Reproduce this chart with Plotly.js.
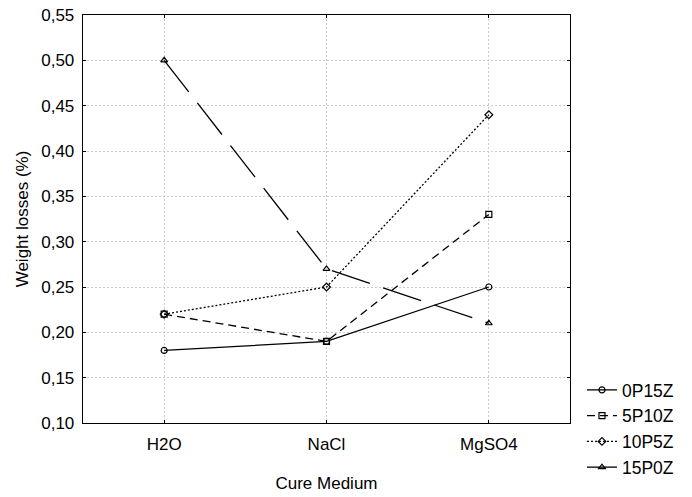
<!DOCTYPE html>
<html>
<head>
<meta charset="utf-8">
<script src="https://cdn.plot.ly/plotly-3.0.1.min.js"></script>
<style>html,body{margin:0;padding:0;background:#fff}#chart{width:692px;height:497px}</style>
</head>
<body>
<div id="chart"></div>
<script>
const categories = ["H2O", "NaCl", "MgSO4"];
const seriesNames = ["0P15Z", "5P10Z", "10P5Z", "15P0Z"];
const s0P15Z = [0.18, 0.19, 0.25];
const s5P10Z = [0.22, 0.19, 0.33];
const s10P5Z = [0.22, 0.25, 0.44];
const s15P0Z = [0.50, 0.27, 0.21];
const yTicks = [0.10, 0.15, 0.20, 0.25, 0.30, 0.35, 0.40, 0.45, 0.50, 0.55];

const values = [s0P15Z, s5P10Z, s10P5Z, s15P0Z];
const dashes = ["solid", "8px,5px", "2px,2px", "40px,14px"];
const symbols = ["circle-open", "square-open", "diamond-open", "triangle-up-open"];
const traces = values.map((v, i) => ({
  x: categories, y: v, name: seriesNames[i], type: "scatter", mode: "lines+markers",
  line: {color: "#000", width: 1.3, dash: dashes[i]},
  marker: {symbol: symbols[i], size: 6, color: "#000", line: {color: "#000", width: 1.2}}
}));

const layout = {
  width: 692, height: 497,
  margin: {l: 83, r: 122, t: 15, b: 60},
  paper_bgcolor: "#fff", plot_bgcolor: "#fff",
  separators: ", ",
  font: {family: "Liberation Sans, Arial, sans-serif", size: 17, color: "#000"},
  showlegend: true,
  legend: {x: 1.0246, xanchor: "left", y: 0.125, yanchor: "top", font: {size: 17.5}, bgcolor: "rgba(0,0,0,0)", itemwidth: 30},
  xaxis: {
    type: "category", range: [-0.5, 2.5],
    showline: true, mirror: "ticks", linecolor: "#000", linewidth: 1.3,
    showgrid: true, gridcolor: "#cccccc", griddash: "2px,2px", gridwidth: 1,
    ticks: "inside", ticklen: 3, tickcolor: "#000", tickwidth: 1,
    ticklabelstandoff: 5,
    tickfont: {size: 17},
    title: {text: "Cure Medium", font: {size: 17}, standoff: 24},
    zeroline: false
  },
  yaxis: {
    range: [0.10, 0.55], tickvals: yTicks, tickformat: ".2f",
    showline: true, mirror: "ticks", linecolor: "#000", linewidth: 1.3,
    showgrid: true, gridcolor: "#cccccc", griddash: "2px,2px", gridwidth: 1,
    ticks: "inside", ticklen: 3, tickcolor: "#000", tickwidth: 1,
    ticklabelstandoff: 4,
    tickfont: {size: 17},
    title: {text: "Weight losses (%)", font: {size: 17}, standoff: 8},
    zeroline: false
  }
};
Plotly.newPlot("chart", traces, layout, {staticPlot: true, displayModeBar: false});
</script>
</body>
</html>
